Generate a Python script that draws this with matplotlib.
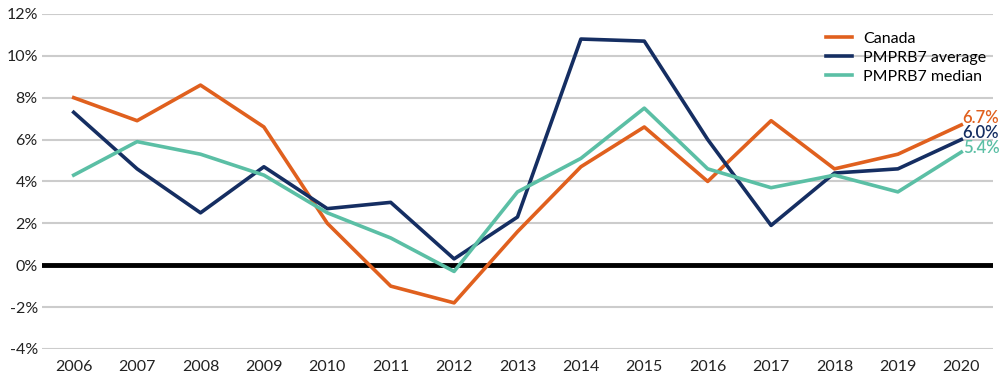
import numpy as np
import matplotlib.pyplot as plt

plt.rcParams['font.family'] = ['Lato', 'DejaVu Sans']

years = list(range(2006, 2021))
canada = [8.0, 6.9, 8.6, 6.6, 2.0, -1.0, -1.8, 1.6, 4.7, 6.6, 4.0, 6.9, 4.6, 5.3, 6.7]
pmprb7_avg = [7.3, 4.6, 2.5, 4.7, 2.7, 3.0, 0.3, 2.3, 10.8, 10.7, 6.0, 1.9, 4.4, 4.6, 6.0]
pmprb7_med = [4.3, 5.9, 5.3, 4.3, 2.5, 1.3, -0.3, 3.5, 5.1, 7.5, 4.6, 3.7, 4.3, 3.5, 5.4]

names = ['Canada', 'PMPRB7 average', 'PMPRB7 median']
colors = ['#E0601E', '#152E62', '#5BBFA5']

fig = plt.figure(figsize=(10, 3.76), dpi=100)
ax = fig.add_axes([0.042, 0.072, 0.951, 0.891])

yt = np.arange(-4, 13, 2)
for y in yt:
    if y != 0:
        ax.axhline(y, color='#cccccc', lw=1.5, zorder=0)
ax.axhline(0, color='black', lw=3.5, zorder=1)

series = [canada, pmprb7_avg, pmprb7_med]
for vals, name, c in zip(series, names, colors):
    ax.plot(years, vals, color=c, lw=2.6, label=name, zorder=3)

# end labels, nudged up a little
offsets = [5, 4.5, 3]
for vals, c, off in zip(series, colors, offsets):
    ax.annotate('%.1f%%' % vals[-1], (years[-1], vals[-1]), xytext=(1, off),
                textcoords='offset points', color=c, fontsize=12, fontweight='semibold',
                ha='left', va='center', annotation_clip=False)

ax.set_xlim(2005.5, 2020.5)
ax.set_ylim(-4, 12)
ax.set_yticks(yt)
ax.set_yticklabels(['%d%%' % y for y in yt])
ax.set_xticks(years)
ax.tick_params(length=0, labelsize=11.5, colors='#222222')
ax.tick_params(axis='x', pad=8)
ax.tick_params(axis='y', pad=3)
for s in ax.spines.values():
    s.set_visible(False)

ax.legend(loc='upper right', bbox_to_anchor=(1.008, 0.99), frameon=False, fontsize=11.5,
          handlelength=1.6, handletextpad=0.7, labelspacing=0.3)

fig.savefig('out.png')
